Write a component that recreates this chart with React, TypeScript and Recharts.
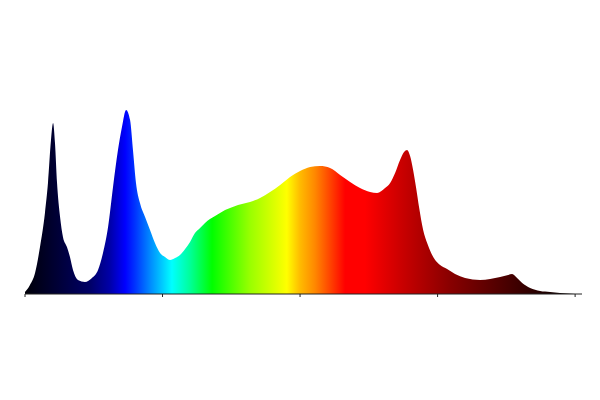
import { Area, AreaChart, XAxis, YAxis } from "recharts"

// wavelength (nm) and relative intensity
const wavelengths = [
  380, 383.6, 387.3, 390.9, 394.5, 396.7, 398.9, 400.4, 401.8, 403.3, 405.5, 407.6, 410.5, 412.7, 414.9,
  418.5, 423.6, 428.7, 433.1, 436.7, 440.4, 444, 447.6, 450.5, 453.5, 456.4, 458.5, 460.7, 463.6, 467.3,
  470.9, 474.5, 478.2, 481.8, 485.5, 489.1, 492.7, 496.4, 500, 503.6, 507.3, 510.9, 514.5, 518.2, 521.8,
  525.5, 529.1, 534.9, 543.6, 550.9, 558.2, 565.5, 572.7, 580, 587.3, 594.5, 601.8, 609.1, 616.4, 623.6,
  630.9, 636, 641.8, 645.5, 649.1, 652.7, 655.6, 657.8, 660, 662.2, 664.4, 666.5, 669.5, 672.4, 675.3,
  678.2, 681.8, 686.9, 692.7, 700, 710.9, 718.2, 725.5, 731.3, 734.2, 737.8, 741.5, 747.3, 754.5, 761.8,
  769, 780,
]

const intensity = [
  1, 4.5, 10.5, 23.5, 40.5, 55.5, 77, 85.5, 75.5, 55.5, 38.5, 28.5, 23.5, 18.5, 12,
  7, 6, 8, 12, 20.5, 33.5, 53.5, 72, 83.5, 92, 87, 72, 55.5, 45.5, 38.5,
  32, 25.5, 20.5, 18.5, 17, 18, 19.5, 22.5, 26, 30.5, 33, 35.5, 37.5, 39, 40.5,
  42, 43, 44.5, 46, 48, 51, 54.5, 58.5, 61.5, 63.5, 64, 63, 59.5, 56, 53,
  51, 50.5, 53, 55.5, 60.5, 67, 71, 72, 69, 62, 53, 43.5, 32, 25.5, 20.5,
  17, 14.5, 12.5, 10, 8, 7, 7.5, 8.5, 9.5, 10, 8, 5.5, 3, 1.5, 1,
  0.5, 0,
]

const xTicks = [380, 480, 580, 680, 780]

// colour stops across the visible spectrum
const stopOffsets = [0, 0.055, 0.118, 0.155, 0.182, 0.2, 0.227, 0.267, 0.3, 0.34, 0.409, 0.476, 0.5, 0.527, 0.582, 0.618, 0.682, 0.773, 0.864, 0.936, 1]
const stopColors = [
  "#000008", "#000033", "#000066", "#0000aa", "#0000ff", "#0033ff", "#0088ff", "#00ffff", "#00ff99", "#00ff00",
  "#99ff00", "#ffff00", "#ffbb00", "#ff8800", "#ff0000", "#ff0000", "#cc0000", "#880000", "#500000", "#250000", "#000000",
]

const data = wavelengths.map((nm, i) => ({ nm, value: intensity[i] }))

export default function App() {
  return (
    <div style={{ position: "absolute", left: 0, top: 0, width: 600, height: 400, background: "#fff" }}>
      <AreaChart width={600} height={400} data={data} margin={{ top: 94, right: 18, left: 25, bottom: 76 }}>
        <defs>
          <linearGradient id="spectrum" x1="0" y1="0" x2="1" y2="0">
            {stopOffsets.map((o, i) => (
              <stop key={o} offset={o} stopColor={stopColors[i]} />
            ))}
          </linearGradient>
        </defs>
        <XAxis
          dataKey="nm"
          type="number"
          domain={[380, 785]}
          ticks={xTicks}
          tickFormatter={() => ""}
          tickSize={3}
          height={30}
          stroke="#222"
          axisLine={{ stroke: "#222" }}
          tickLine={{ stroke: "#222" }}
        />
        <YAxis hide domain={[0, 100]} />
        <Area
          type="monotone"
          dataKey="value"
          stroke="none"
          fill="url(#spectrum)"
          fillOpacity={1}
          dot={false}
          activeDot={false}
          isAnimationActive={false}
        />
      </AreaChart>
    </div>
  )
}
